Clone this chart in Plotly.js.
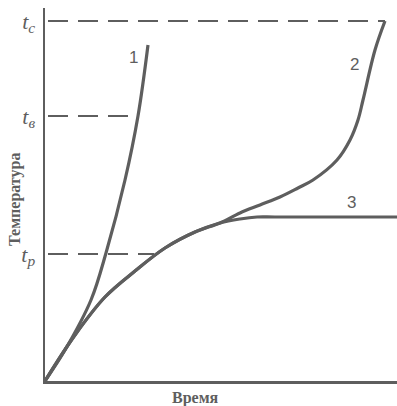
<!DOCTYPE html>
<html>
<head>
<meta charset="utf-8">
<script src="https://cdn.plot.ly/plotly-3.0.1.min.js"></script>
<style>html,body{margin:0;padding:0;background:#fff;}#chart{width:397px;height:406px;}</style>
</head>
<body>
<div id="chart"></div>
<script>
// Curve 1
const c1x = [0, 20, 46, 61, 80, 93, 103];
const c1y = [0, 31, 81, 128, 201, 265, 336];
// Curve 2
const c2x = [0, 30, 60, 90, 120, 150, 175, 195, 215, 235, 253, 268, 292, 305, 313, 318, 330, 340];
const c2y = [0, 46, 84, 110, 133, 149, 158, 168, 176, 184, 193, 201, 221, 241, 261, 281, 331, 360];
// Curve 3
const c3x = [0, 30, 60, 90, 120, 150, 175, 195, 212, 230, 352];
const c3y = [0, 46, 84, 110, 133, 149, 158, 162, 164, 164, 164];
// Levels
const levelNames = ['<i>t<sub>c</sub></i>', '<i>t<sub>в</sub></i>', '<i>t<sub>р</sub></i>'];
const levelVals = [360, 265, 127];
const levelEnds = [340, 93, 109];
const curveLabels = ['1', '2', '3'];
const labelX = [88, 309, 306];
const labelY = [324, 317, 179];

const col = '#5e5e5e';
const traces = [];
for (let i = 0; i < levelVals.length; i++) {
  traces.push({x: [3, levelEnds[i]], y: [levelVals[i], levelVals[i]], mode: 'lines',
    line: {color: col, width: 2, dash: '20px,10px'}, hoverinfo: 'skip', cliponaxis: false});
}
const cw = 3.2;
traces.push({x: c3x, y: c3y, mode: 'lines', line: {color: col, width: cw, shape: 'spline', smoothing: 1}, cliponaxis: false});
traces.push({x: c2x, y: c2y, mode: 'lines', line: {color: col, width: cw, shape: 'spline', smoothing: 1}, cliponaxis: false});
traces.push({x: c1x, y: c1y, mode: 'lines', line: {color: col, width: cw, shape: 'spline', smoothing: 1}, cliponaxis: false});

const annotations = curveLabels.map((t, i) => ({x: labelX[i], y: labelY[i], text: t, showarrow: false,
  font: {family: 'Liberation Sans, Arial', size: 17, color: col}}));
annotations.push({xref: 'x', yref: 'paper', x: 150, y: 0, yanchor: 'middle', yshift: -17, text: '<b>Время</b>', showarrow: false,
  font: {family: 'Liberation Serif', size: 16, color: col}});
annotations.push({xref: 'paper', yref: 'y', x: 0, xanchor: 'center', xshift: -30, y: 181, text: '<b>Температура</b>', textangle: -90, showarrow: false,
  font: {family: 'Liberation Serif', size: 16, color: col}});

const layout = {
  width: 397, height: 406,
  margin: {l: 45, r: 0, t: 8, b: 25},
  paper_bgcolor: '#fff', plot_bgcolor: '#fff',
  showlegend: false,
  xaxis: {range: [0, 352], showgrid: false, zeroline: false, showline: true, linecolor: col, linewidth: 2.5,
    showticklabels: false, ticks: ''},
  yaxis: {range: [0, 373], showgrid: false, zeroline: false, showline: true, linecolor: col, linewidth: 2.5,
    tickvals: levelVals, ticktext: levelNames, ticks: '', ticklabelstandoff: 3,
    tickfont: {family: 'Liberation Serif, DejaVu Serif, serif', size: 22, color: col}},
  annotations: annotations
};
Plotly.newPlot('chart', traces, layout, {displayModeBar: false, staticPlot: true});
</script>
</body>
</html>
